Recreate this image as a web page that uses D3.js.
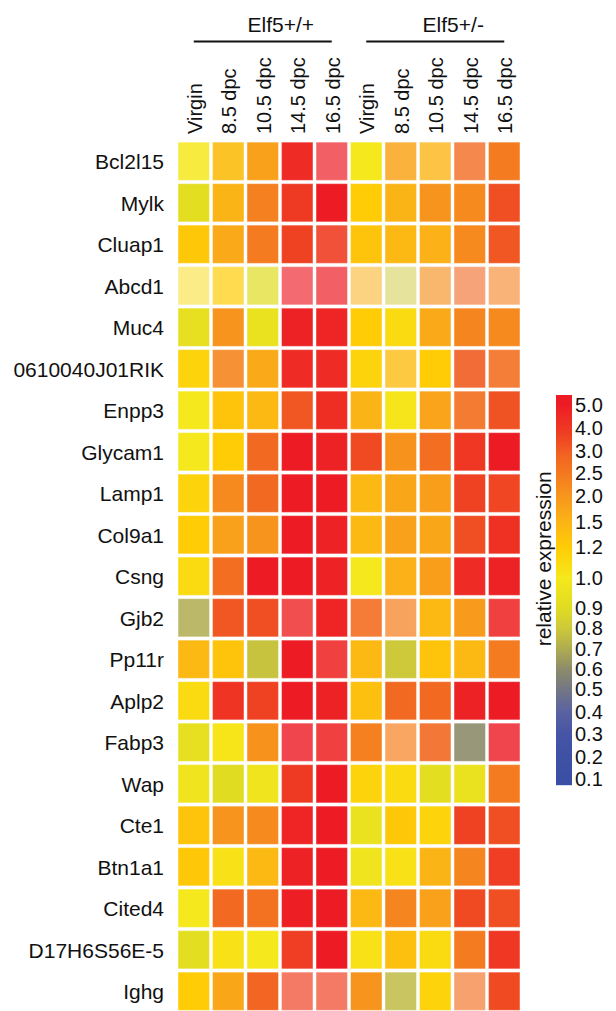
<!DOCTYPE html>
<html>
<head>
<meta charset="utf-8">
<script src="https://cdn.jsdelivr.net/npm/d3@7"></script>
<style>
  body { margin: 0; background: #fff; }
  svg { display: block; font-family: "Liberation Sans", Arial, sans-serif; }
</style>
</head>
<body>
<svg id="chart" width="616" height="1011"></svg>
<script>
// Elf5 heatmap: relative expression per gene and stage

const genes = ['Bcl2l15', 'Mylk', 'Cluap1', 'Abcd1', 'Muc4', '0610040J01RIK', 'Enpp3',
  'Glycam1', 'Lamp1', 'Col9a1', 'Csng', 'Gjb2', 'Pp11r', 'Aplp2', 'Fabp3', 'Wap',
  'Cte1', 'Btn1a1', 'Cited4', 'D17H6S56E-5', 'Ighg'];
const groups = ['Elf5+/+', 'Elf5+/-'];
const stages = ['Virgin', '8.5 dpc', '10.5 dpc', '14.5 dpc', '16.5 dpc'];

// one row per gene: 5 stages Elf5+/+ then 5 stages Elf5+/-
const expr = [
  [1.0, 1.4, 1.8, 4.5, 5.0, 1.0, 1.75, 1.5, 2.85, 2.5],
  [0.92, 1.5, 2.4, 4.0, 5.0, 1.2, 1.5, 2.0, 2.2, 3.5],
  [1.25, 1.65, 2.5, 3.8, 3.9, 1.3, 1.45, 1.55, 2.2, 3.3],
  [1.1, 1.2, 0.9, 5.0, 5.0, 1.6, 0.8, 2.1, 3.0, 2.4],
  [0.93, 2.0, 0.95, 4.8, 4.7, 1.2, 1.1, 1.65, 2.3, 2.2],
  [1.15, 2.3, 1.65, 4.5, 4.5, 1.15, 1.4, 1.2, 3.2, 2.75],
  [1.0, 1.3, 1.45, 3.3, 4.4, 1.5, 1.02, 1.75, 2.75, 3.4],
  [1.0, 1.2, 2.9, 5.0, 4.8, 3.6, 2.05, 2.8, 4.1, 5.0],
  [1.15, 2.2, 2.9, 5.0, 5.0, 1.45, 1.7, 1.85, 3.8, 3.7],
  [1.2, 1.8, 2.0, 5.0, 4.8, 1.45, 1.8, 1.7, 3.5, 4.3],
  [1.1, 2.8, 5.0, 5.0, 4.8, 1.0, 1.55, 1.85, 4.5, 4.8],
  [0.7, 3.3, 3.5, 4.8, 4.7, 2.8, 2.4, 1.45, 1.9, 4.7],
  [1.45, 1.3, 0.78, 5.0, 4.7, 1.45, 0.8, 1.3, 1.45, 2.5],
  [1.1, 4.2, 3.8, 5.0, 4.8, 1.35, 2.9, 2.9, 4.8, 5.0],
  [0.93, 1.03, 2.05, 5.0, 4.7, 2.4, 2.4, 2.9, 0.6, 5.0],
  [0.97, 0.9, 0.97, 4.0, 5.0, 1.15, 1.1, 0.92, 0.95, 2.5],
  [1.3, 2.0, 2.2, 4.7, 5.0, 0.95, 1.25, 1.15, 3.8, 3.5],
  [1.25, 1.05, 1.45, 4.8, 5.0, 0.97, 1.05, 1.5, 2.3, 3.9],
  [1.0, 2.9, 2.7, 4.9, 5.0, 1.45, 2.3, 1.8, 3.6, 3.5],
  [0.92, 1.05, 1.0, 3.9, 5.0, 1.05, 1.35, 1.1, 2.5, 4.1],
  [1.2, 1.7, 3.0, 3.8, 3.8, 2.0, 0.75, 1.15, 2.8, 3.6]
];

// cells printed paler in the figure: [gene, column, opacity]
const faded = [
  ['Bcl2l15', 0, 0.85], ['Bcl2l15', 1, 0.9], ['Bcl2l15', 4, 0.7], ['Bcl2l15', 6, 0.85],
  ['Bcl2l15', 7, 0.8], ['Bcl2l15', 8, 0.8],
  ['Cluap1', 4, 0.9],
  ['Abcd1', 0, 0.5], ['Abcd1', 1, 0.7], ['Abcd1', 2, 0.7], ['Abcd1', 3, 0.65], ['Abcd1', 4, 0.7],
  ['Abcd1', 5, 0.55], ['Abcd1', 6, 0.5], ['Abcd1', 7, 0.65], ['Abcd1', 8, 0.6], ['Abcd1', 9, 0.6],
  ['0610040J01RIK', 1, 0.9], ['0610040J01RIK', 6, 0.8], ['0610040J01RIK', 8, 0.9], ['0610040J01RIK', 9, 0.9],
  ['Enpp3', 8, 0.92],
  ['Gjb2', 0, 0.85], ['Gjb2', 3, 0.8], ['Gjb2', 5, 0.9], ['Gjb2', 6, 0.72], ['Gjb2', 9, 0.88],
  ['Pp11r', 4, 0.88],
  ['Fabp3', 3, 0.82], ['Fabp3', 4, 0.88], ['Fabp3', 6, 0.7], ['Fabp3', 7, 0.9], ['Fabp3', 8, 0.9], ['Fabp3', 9, 0.82],
  ['Ighg', 3, 0.7], ['Ighg', 4, 0.7], ['Ighg', 6, 0.85], ['Ighg', 8, 0.65]
];

const legendTicks = [5.0, 4.0, 3.0, 2.5, 2.0, 1.5, 1.2, 1.0, 0.9, 0.8, 0.7, 0.6, 0.5, 0.4, 0.3, 0.2, 0.1];

// colour ramp: blue -> grey -> yellow -> orange -> red
const colorStops = [0.1, 0.2, 0.3, 0.4, 0.5, 0.6, 0.7, 0.8, 0.9, 1.0, 1.2, 1.5, 2.0, 2.5, 3.0, 3.5, 4.0, 5.0];
const colorRamp = ['#3a4fa3', '#3f51a5', '#4654a6', '#5a63a0', '#747784', '#8e8c6a', '#b0ac50', '#cdc93a',
  '#e0dc22', '#f5e81c', '#ffcc05', '#fbb416', '#f7941d', '#f47b20', '#f26522', '#f04e23', '#ef3a23', '#ed1c24'];

const color = d3.scaleLinear().domain(colorStops).range(colorRamp).clamp(true);

const svg = d3.select('#chart');
const columns = groups.flatMap(g => stages.map(s => g + '|' + s));

const x = d3.scaleBand().domain(columns).range([176.5, 521.5]).paddingInner(0.09).paddingOuter(0.045);
const y = d3.scaleBand().domain(genes).range([140.5, 1012]).paddingInner(0.08).paddingOuter(0.04);

const cells = [];
const fadeMap = {};
faded.forEach(([g, c, o]) => { fadeMap[g + '|' + c] = o; });
genes.forEach((g, i) => {
  expr[i].forEach((v, j) => cells.push({ gene: g, col: columns[j], value: v, op: fadeMap[g + '|' + j] || 1 }));
});

svg.append('g').selectAll('rect').data(cells).enter().append('rect')
  .attr('x', d => x(d.col))
  .attr('y', d => y(d.gene))
  .attr('width', x.bandwidth())
  .attr('height', y.bandwidth())
  .attr('fill', d => color(d.value))
  .attr('fill-opacity', d => d.op)
  .attr('stroke', '#fff').attr('stroke-opacity', 0.35).attr('stroke-width', 1);

// gene labels
svg.append('g').selectAll('text').data(genes).enter().append('text')
  .attr('x', 164)
  .attr('y', d => y(d) + y.bandwidth() / 2 + 8)
  .attr('text-anchor', 'end')
  .attr('font-size', 21)
  .attr('fill', '#111')
  .text(d => d);

// stage labels (rotated)
svg.append('g').selectAll('text').data(columns).enter().append('text')
  .attr('transform', d => `translate(${x(d) + x.bandwidth() / 2 + 8},134) rotate(-90)`)
  .attr('font-size', 20)
  .attr('fill', '#111')
  .text(d => d.split('|')[1]);

// group headers + bars
groups.forEach(g => {
  const first = x(g + '|' + stages[0]) + x.bandwidth() / 2;
  const last = x(g + '|' + stages[stages.length - 1]) + x.bandwidth() / 2;
  svg.append('line')
    .attr('x1', first).attr('x2', last).attr('y1', 41.5).attr('y2', 41.5)
    .attr('stroke', '#111').attr('stroke-width', 2.2);
  svg.append('text')
    .attr('x', (first + last) / 2 + 18).attr('y', 32)
    .attr('text-anchor', 'middle')
    .attr('font-size', 21)
    .attr('fill', '#111')
    .text(g);
});

// legend
const barX = 556, barW = 16, barTop = 395, barBottom = 785;
const H = barBottom - barTop;
const ly = d3.scaleLinear()
  .domain([0.1, 0.5, 0.9, 1.0, 1.2, 1.5, 2.0, 3.0, 5.0])
  .range([0.985, 0.754, 0.546, 0.469, 0.390, 0.326, 0.256, 0.156, 0.0256].map(t => barTop + t * H))
  .clamp(true);

const legend = svg.append('g');
legend.selectAll('rect').data(d3.range(barTop, barBottom)).enter().append('rect')
  .attr('x', barX).attr('y', d => d).attr('width', barW).attr('height', 1.2)
  .attr('fill', d => color(ly.invert(d + 0.5)));

// the 4.0 .. 2.0 labels are crowded in the original; even them out a little
const nudge = { 4: -2, 3: -5, 2.5: -2, 2: 1 };
legend.selectAll('text').data(legendTicks).enter().append('text')
  .attr('x', 575)
  .attr('y', d => ly(d) + 7 + (nudge[d] || 0))
  .attr('font-size', 20)
  .attr('fill', '#111')
  .text(d => d.toFixed(1));

svg.append('text')
  .attr('transform', `translate(551,${barTop + 0.42 * H}) rotate(-90)`)
  .attr('text-anchor', 'middle')
  .attr('font-size', 21)
  .attr('fill', '#111')
  .text('relative expression');
</script>
</body>
</html>
